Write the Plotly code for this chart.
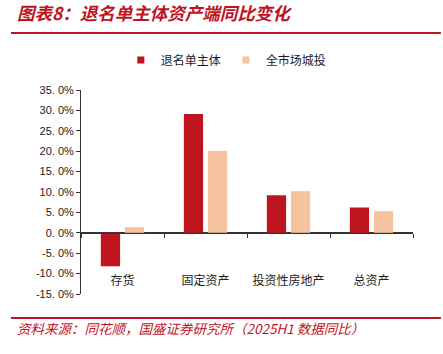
import plotly.graph_objects as go

categories = ["存货", "固定资产", "投资性房地产", "总资产"]
series_names = ["退名单主体", "全市场城投"]
exit_list = [-8.2, 29.1, 9.2, 6.2]
market = [1.4, 20.1, 10.2, 5.3]
y_ticks = [35, 30, 25, 20, 15, 10, 5, 0, -5, -10, -15]

RED = "#BE141E"
ORANGE = "#F5C3A0"
CJK = "Noto Sans CJK SC"

fig = go.Figure()
fig.add_trace(go.Bar(x=categories, y=exit_list, name=series_names[0], showlegend=False,
                     marker=dict(color=RED, line=dict(width=0))))
fig.add_trace(go.Bar(x=categories, y=market, name=series_names[1], showlegend=False,
                     marker=dict(color=ORANGE, line=dict(width=0))))
# legend entries with small square markers
for nm, col in zip(series_names, [RED, ORANGE]):
    fig.add_trace(go.Scatter(x=[None], y=[None], mode="markers", name=nm,
                             marker=dict(symbol="square", size=7, color=col)))

fig.update_layout(
    width=443, height=354,
    margin=dict(l=81, r=30, t=90, b=60),
    paper_bgcolor="white", plot_bgcolor="white",
    barmode="group", bargap=0.42, bargroupgap=0.2,
    showlegend=True,
    legend=dict(orientation="h", x=0.12, xanchor="left", y=1.147, yanchor="middle",
                font=dict(family=CJK, size=12, color="#1a1a2e"),
                itemwidth=30, tracegroupgap=0, bgcolor="rgba(0,0,0,0)"),
    font=dict(family=CJK, color="#222"),
)

fig.update_yaxes(
    range=[-15, 35], tickvals=y_ticks,
    ticktext=[f"{v:.1f}%".replace(".", ". ") for v in y_ticks],
    showgrid=False, zeroline=True, zerolinecolor="#333", zerolinewidth=1,
    showline=True, linecolor="#333", linewidth=1,
    ticks="outside", ticklen=4, tickcolor="#333",
    tickfont=dict(family="Liberation Sans", size=11, color="#222"),
)
fig.update_xaxes(
    anchor="free", position=0.3,
    showline=True, linecolor="#333", linewidth=1,
    ticks="outside", ticklen=4, tickcolor="#333", tickson="boundaries",
    ticklabelstandoff=37,
    tickfont=dict(family=CJK, size=12, color="#222"),
    showgrid=False,
)

# title
fig.add_annotation(xref="paper", yref="paper", x=-0.2, y=1.38, xanchor="left", yanchor="middle",
                   text="<b><i>图表8：退名单主体资产端同比变化</i></b>", showarrow=False,
                   font=dict(family=CJK, size=17.5, color=RED))
# source
fig.add_annotation(xref="paper", yref="paper", x=-0.2, y=-0.167, xanchor="left", yanchor="middle",
                   text="<i>资料来源：同花顺，国盛证券研究所（2025H1 数据同比）</i>", showarrow=False,
                   font=dict(family=CJK, size=13.5, color=RED))
# header / footer lines
fig.add_shape(type="line", xref="paper", yref="paper", x0=-0.211, x1=1.084, y0=1.279, y1=1.279,
              line=dict(color=RED, width=2))
fig.add_shape(type="line", xref="paper", yref="paper", x0=-0.211, x1=1.084, y0=-0.118, y1=-0.118,
              line=dict(color=RED, width=2))

fig.write_html("out.html")
